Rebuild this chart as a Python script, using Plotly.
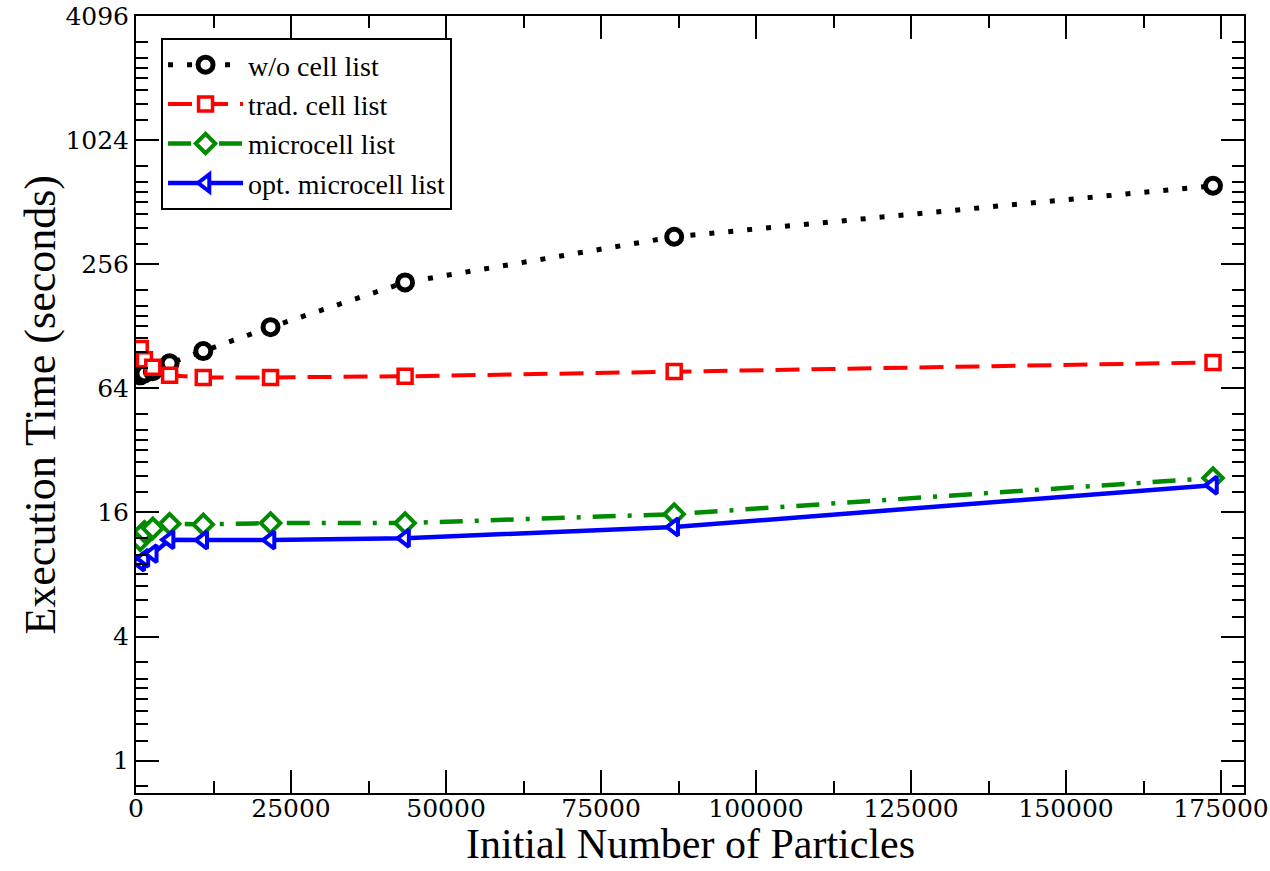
import plotly.graph_objects as go

particles = [680, 1360, 2710, 5420, 10850, 21700, 43400, 86800, 173700]
wo_cell = [74, 75.5, 77.5, 84.6, 97, 126.8, 209, 348, 615]
trad_cell = [100, 88.1, 81.1, 74, 72.3, 72.3, 73.2, 77.3, 85.5]
microcell = [11.75, 12.9, 13.4, 14.1, 14.0, 14.2, 14.2, 15.7, 23.5]
opt_microcell = [9.2, 9.6, 10.1, 11.8, 11.75, 11.75, 12.0, 13.6, 21.7]

names = ["w/o cell list", "trad. cell list", "microcell list", "opt. microcell list"]
x_title = "Initial Number of Particles"
y_title = "Execution Time (seconds)"
y_major = [1, 4, 16, 64, 256, 1024, 4096]
y_minor_factors = [1.25, 1.5, 1.75, 2, 2.25, 2.5, 3]
y_minor = [m * f for m in [0.25] + y_major[:-1] for f in y_minor_factors]

title_family = "Liberation Serif"
legend_family = "Times"
tick_family = "DejaVu Serif"

fig = go.Figure()
fig.add_trace(go.Scatter(
    x=particles, y=wo_cell, name=names[0], mode="lines+markers",
    line=dict(color="black", width=5, dash="5px,14px"),
    marker=dict(symbol="circle", size=15, color="white", line=dict(color="black", width=5)),
))
fig.add_trace(go.Scatter(
    x=particles, y=trad_cell, name=names[1], mode="lines+markers",
    line=dict(color="#ff0000", width=4, dash="24px,12px"),
    marker=dict(symbol="square", size=14, color="white", line=dict(color="#ff0000", width=3.5)),
))
fig.add_trace(go.Scatter(
    x=particles, y=microcell, name=names[2], mode="lines+markers",
    line=dict(color="#008b00", width=4.5, dash="23px,12px,4px,12px"),
    marker=dict(symbol="diamond", size=15, color="white", line=dict(color="#008b00", width=4)),
))
fig.add_trace(go.Scatter(
    x=particles, y=opt_microcell, name=names[3], mode="lines+markers",
    line=dict(color="#0000ff", width=4.5),
    marker=dict(symbol="triangle-left", size=15, color="white", line=dict(color="#0000ff", width=4)),
))

axis_common = dict(
    showline=True, linecolor="black", linewidth=2, mirror="allticks",
    ticks="inside", ticklen=23, tickwidth=2, tickcolor="black",
    showgrid=False, zeroline=False, automargin=False,
    tickfont=dict(family=tick_family, size=25, color="black"),
)

fig.update_xaxes(
    **axis_common,
    range=[0, 178700], tickmode="linear", tick0=0, dtick=25000,
    tickformat="d", ticklabelstandoff=-8,
    minor=dict(ticks="inside", ticklen=12, tickwidth=2, tickcolor="black", tick0=0, dtick=12500),
)
fig.update_yaxes(
    **axis_common,
    type="log", range=[-0.157, 3.6125],
    tickmode="array", tickvals=y_major, ticktext=[str(v) for v in y_major],
    ticklabeloverflow="allow",
    minor=dict(ticks="inside", ticklen=12, tickwidth=2, tickcolor="black", tickmode="array", tickvals=y_minor),
)

# axis titles placed as annotations for exact positioning
fig.add_annotation(
    text=x_title, xref="paper", yref="paper", x=0.5, y=-(869 - 793) / 777,
    xanchor="center", yanchor="bottom", showarrow=False, height=46, valign="middle",
    font=dict(family=title_family, size=42, color="black"),
)
fig.add_annotation(
    text=y_title, xref="paper", yref="paper", x=-0.0866, y=0.5,
    xanchor="center", yanchor="middle", showarrow=False, textangle=-90,
    font=dict(family=title_family, size=44, color="black"),
)

fig.update_layout(
    width=1270, height=871,
    margin=dict(l=136, r=26, t=16, b=78),
    font=dict(color="black"),
    paper_bgcolor="white", plot_bgcolor="white",
    legend=dict(
        x=0.0226, y=0.9717, xanchor="left", yanchor="top",
        bgcolor="white", bordercolor="black", borderwidth=2,
        font=dict(family=legend_family, size=28, color="black"),
        itemwidth=75, tracegroupgap=0,
    ),
    showlegend=True,
)

fig.write_html("out.html")
